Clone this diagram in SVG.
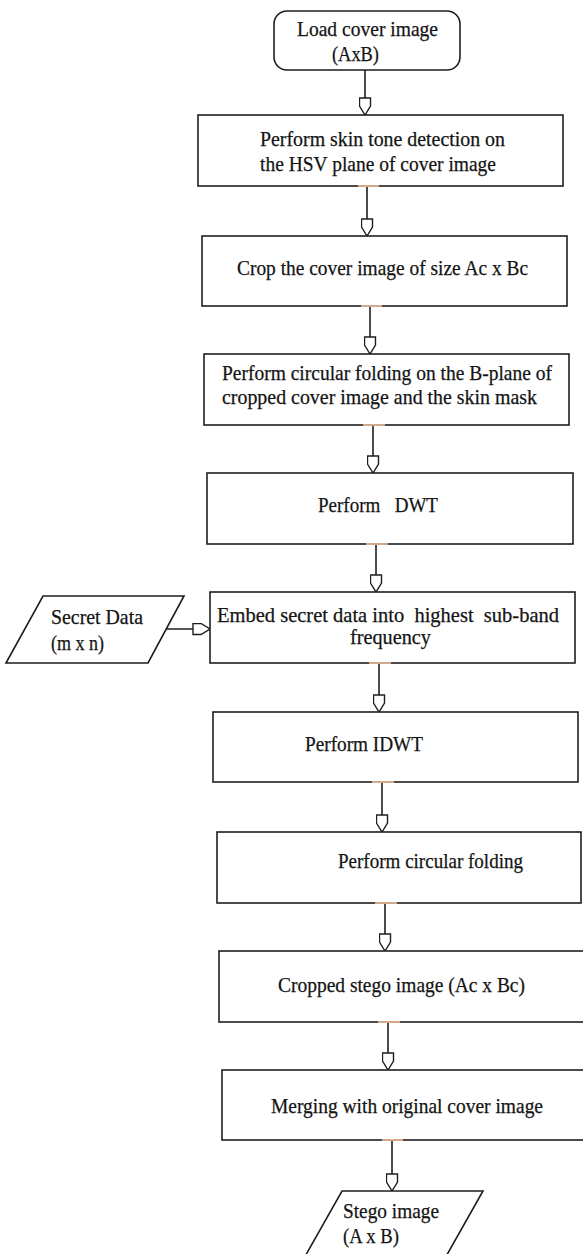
<svg xmlns="http://www.w3.org/2000/svg" width="583" height="1254" viewBox="0 0 583 1254">
<style>
.box{fill:#fff;stroke:#1e1e1e;stroke-width:1.6}
.t{font-family:"Liberation Serif","Times New Roman","DejaVu Serif",serif;font-size:21px;fill:#141414;stroke:#141414;stroke-width:0.25}
.c{stroke:#1e1e1e;stroke-width:1.6;fill:none;marker-end:url(#ah)}
.tan{stroke:#d3a98c;stroke-width:2}
</style>
<defs>
<marker id="ah" markerUnits="userSpaceOnUse" markerWidth="19" markerHeight="13" viewBox="0 0 19 13" refX="18" refY="6.5" orient="auto">
<path d="M1,1 L9,1 L18,6.5 L9,12 L1,12 Z" fill="#fff" stroke="#1e1e1e" stroke-width="1.4"/>
</marker>
</defs>
<rect width="583" height="1254" fill="#fff"/>
<g id="connectors">
<line class="c" x1="365" y1="70" x2="365" y2="115"/>
<line class="c" x1="367" y1="186" x2="367" y2="236"/>
<line class="c" x1="370" y1="306" x2="370" y2="354"/>
<line class="c" x1="373" y1="425" x2="373" y2="473"/>
<line class="c" x1="376" y1="544" x2="376" y2="592"/>
<line class="c" x1="379" y1="663" x2="379" y2="712"/>
<line class="c" x1="382" y1="782" x2="382" y2="832"/>
<line class="c" x1="385" y1="903" x2="385" y2="951"/>
<line class="c" x1="388" y1="1022" x2="388" y2="1070"/>
<line class="c" x1="392" y1="1140" x2="392" y2="1191"/>
<line class="c" x1="166" y1="629" x2="210" y2="629"/>
</g>
<g id="n1">
<rect class="box" x="274" y="11" width="186" height="59" rx="13"/>
<text class="t" x="297" y="35.5" textLength="141" lengthAdjust="spacingAndGlyphs">Load cover image</text>
<text class="t" x="332" y="60.5" textLength="47" lengthAdjust="spacingAndGlyphs">(AxB)</text>
</g>
<g id="n2">
<rect class="box" x="198" y="115" width="365" height="71"/>
<line class="tan" x1="358" y1="186" x2="379" y2="186"/>
<text class="t" x="260" y="146" textLength="245" lengthAdjust="spacingAndGlyphs">Perform skin tone detection on</text>
<text class="t" x="260" y="171" textLength="236" lengthAdjust="spacingAndGlyphs">the HSV plane of cover image</text>
</g>
<g id="n3">
<rect class="box" x="202" y="236" width="365" height="70"/>
<line class="tan" x1="361" y1="306" x2="382" y2="306"/>
<text class="t" x="237" y="275" textLength="291" lengthAdjust="spacingAndGlyphs">Crop the cover image of size Ac x Bc</text>
</g>
<g id="n4">
<rect class="box" x="204" y="354" width="365" height="71"/>
<line class="tan" x1="363" y1="425" x2="385" y2="425"/>
<text class="t" x="222" y="380" textLength="330" lengthAdjust="spacingAndGlyphs">Perform circular folding on the B-plane of</text>
<text class="t" x="222" y="404" textLength="315" lengthAdjust="spacingAndGlyphs">cropped cover image and the skin mask</text>
</g>
<g id="n5">
<rect class="box" x="207" y="473" width="366" height="71"/>
<line class="tan" x1="366" y1="544" x2="388" y2="544"/>
<text class="t" x="318" y="512" textLength="120" lengthAdjust="spacingAndGlyphs" xml:space="preserve">Perform   DWT</text>
</g>
<g id="n6">
<rect class="box" x="210" y="592" width="365" height="71"/>
<line class="tan" x1="369" y1="663" x2="391" y2="663"/>
<text class="t" x="217" y="622" textLength="342" lengthAdjust="spacingAndGlyphs" xml:space="preserve">Embed secret data into  highest  sub-band</text>
<text class="t" x="350" y="644" textLength="81" lengthAdjust="spacingAndGlyphs">frequency</text>
</g>
<g id="n_secret">
<polygon class="box" points="43,596 184,596 148,663 6,663"/>
<text class="t" x="51" y="624" textLength="92" lengthAdjust="spacingAndGlyphs">Secret Data</text>
<text class="t" x="51" y="650" textLength="53" lengthAdjust="spacingAndGlyphs">(m x n)</text>
</g>
<g id="n7">
<rect class="box" x="213" y="712" width="365" height="70"/>
<line class="tan" x1="372" y1="782" x2="394" y2="782"/>
<text class="t" x="305" y="751" textLength="118" lengthAdjust="spacingAndGlyphs">Perform IDWT</text>
</g>
<g id="n8">
<rect class="box" x="217" y="832" width="364" height="71"/>
<line class="tan" x1="375" y1="903" x2="397" y2="903"/>
<text class="t" x="338" y="868" textLength="185" lengthAdjust="spacingAndGlyphs">Perform circular folding</text>
</g>
<g id="n9">
<rect class="box" x="219" y="951" width="380" height="71"/>
<line class="tan" x1="378" y1="1022" x2="400" y2="1022"/>
<text class="t" x="278" y="992" textLength="247" lengthAdjust="spacingAndGlyphs">Cropped stego image (Ac x Bc)</text>
</g>
<g id="n10">
<rect class="box" x="222" y="1070" width="380" height="70"/>
<line class="tan" x1="382" y1="1140" x2="403" y2="1140"/>
<text class="t" x="271" y="1113" textLength="272" lengthAdjust="spacingAndGlyphs">Merging with original cover image</text>
</g>
<g id="n_stego">
<polygon class="box" points="342,1191 483,1191 444,1260 303,1260"/>
<text class="t" x="343" y="1218" textLength="96" lengthAdjust="spacingAndGlyphs">Stego image</text>
<text class="t" x="343" y="1243" textLength="56" lengthAdjust="spacingAndGlyphs">(A x B)</text>
</g>
</svg>
